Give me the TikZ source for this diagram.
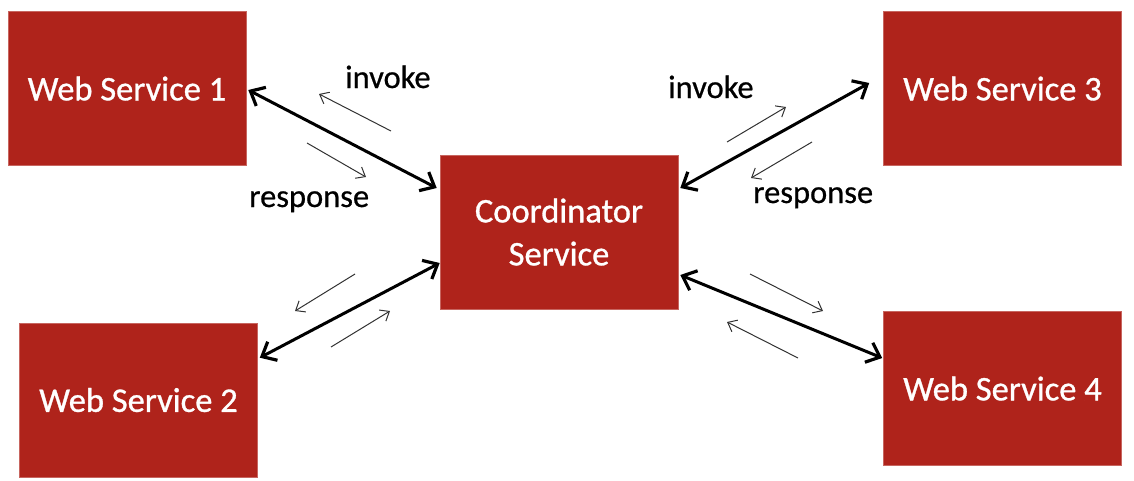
\documentclass[tikz,border=0pt]{standalone}
\usepackage{fontspec}
\setmainfont{Carlito}
\newfontfamily\boxfont[FakeBold=0.9]{Carlito}
\newfontfamily\lblfont[FakeBold=0.6]{Carlito}
\usetikzlibrary{arrows.meta,calc}
\definecolor{boxred}{RGB}{175,35,27}
\definecolor{thingray}{RGB}{50,50,50}
\tikzset{
  svcbox/.style={fill=boxred, draw=boxred!70!white, line width=0.6pt, minimum width=238pt, minimum height=154pt, inner sep=0pt, text=white, align=center, font=\boxfont\fontsize{34.5}{43}\selectfont},
  bigarrow/.style={line width=3pt, {Straight Barb[length=12pt,width=21pt,line width=3.2pt]}-{Straight Barb[length=12pt,width=21pt,line width=3.2pt]}},
  thinarrow/.style={line width=1pt, draw=thingray, -{Straight Barb[length=8pt,width=13pt,line width=1pt]}},
  lbl/.style={anchor=base west, inner sep=0pt, font=\lblfont\fontsize{32.5}{36}\selectfont, text=black}
}
\begin{document}
\begin{tikzpicture}[x=1pt,y=-1pt]
\useasboundingbox (0,0) rectangle (1134,480);
% boxes
\node[svcbox] (ws1) at (127,88.5) {Web Service 1};
\node[svcbox] (ws2) at (138.5,400) {Web Service 2};
\node[svcbox] (coord) at (559,232) {Coordinator\\Service};
\node[svcbox] (ws3) at (1002.5,88.5) {Web Service 3};
\node[svcbox] (ws4) at (1002.5,388.5) {Web Service 4};
% thick double arrows
\draw[bigarrow] ($(ws1.east)+(2,1.5)$) -- ($(coord.west)+(-3,-44)$);
\draw[bigarrow] ($(ws2.north east)+(2,35)$) -- ($(coord.west)+(0,31)$);
\draw[bigarrow] ($(coord.east)+(2,-44)$) -- ($(ws3.west)+(-14,-5.5)$);
\draw[bigarrow] ($(coord.east)+(2,43)$) -- ($(ws4.west)+(-1,-30.5)$);
% thin arrow coordinates
\coordinate (a1s) at (391,131); \coordinate (a1e) at (319,94);
\coordinate (b1s) at (307,143); \coordinate (b1e) at (366,177);
\coordinate (a2s) at (355,274); \coordinate (a2e) at (295,311);
\coordinate (b2s) at (331,347); \coordinate (b2e) at (390,311);
\coordinate (a3s) at (727,142); \coordinate (a3e) at (786,107);
\coordinate (b3s) at (812,142); \coordinate (b3e) at (751,178);
\coordinate (a4s) at (750,274); \coordinate (a4e) at (823,311);
\coordinate (b4s) at (798,358); \coordinate (b4e) at (727,322);
\draw[thinarrow] (a1s) -- (a1e);
\draw[thinarrow] (b1s) -- (b1e);
\draw[thinarrow] (a2s) -- (a2e);
\draw[thinarrow] (b2s) -- (b2e);
\draw[thinarrow] (a3s) -- (a3e);
\draw[thinarrow] (b3s) -- (b3e);
\draw[thinarrow] (a4s) -- (a4e);
\draw[thinarrow] (b4s) -- (b4e);
% labels
\node[lbl] (inv1) at (345,88) {invoke};
\node[lbl] (resp1) at (249,207) {response};
\node[lbl] (inv3) at (668,98) {invoke};
\node[lbl] (resp3) at (753,203) {response};
\end{tikzpicture}
\end{document}
